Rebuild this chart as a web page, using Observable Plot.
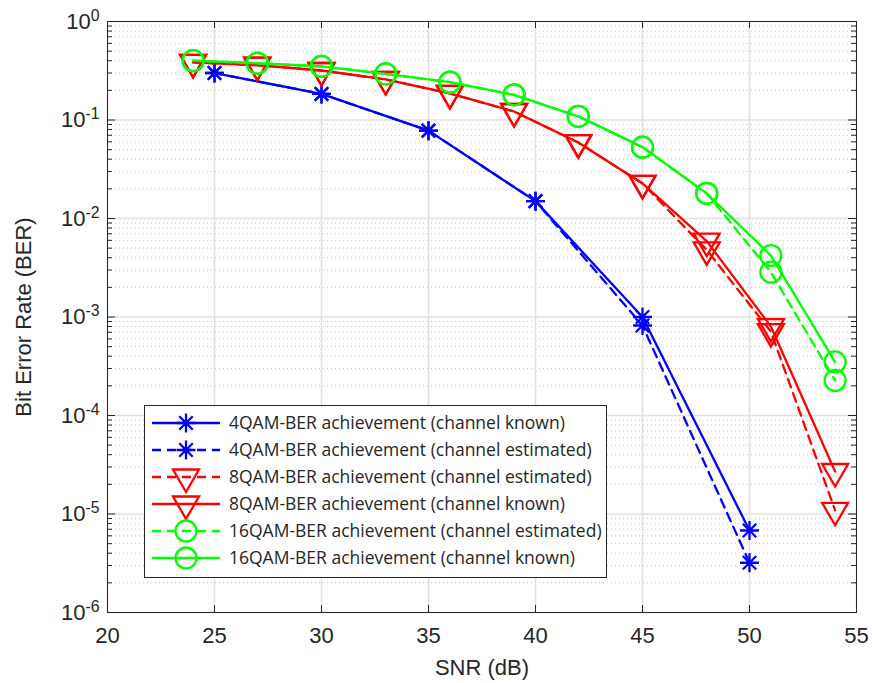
<!DOCTYPE html>
<html><head><meta charset="utf-8">
<script src="https://cdn.jsdelivr.net/npm/d3@7"></script>
<script src="https://cdn.jsdelivr.net/npm/@observablehq/plot@0.6"></script>
<style>
body{margin:0;background:#fff;}
#chart{position:relative;width:872px;height:683px;}
</style></head><body><div id="chart"></div>
<script>
// ---- data ----
const snr4 = [25, 30, 35, 40, 45, 50];
const ber4Known = [0.30, 0.184, 0.078, 0.015, 1.0e-3, 6.8e-6];
const ber4Est   = [0.30, 0.184, 0.078, 0.015, 8.2e-4, 3.2e-6];
const snr8 = [24, 27, 30, 33, 36, 39, 42, 45, 48, 51, 54];
const ber8Est   = [0.385, 0.36, 0.318, 0.258, 0.186, 0.122, 0.059, 0.0227, 4.8e-3, 7.1e-4, 1.09e-5];
const ber8Known = [0.385, 0.36, 0.318, 0.258, 0.186, 0.122, 0.059, 0.0227, 5.9e-3, 8.0e-4, 2.7e-5];
const snr16 = [24, 27, 30, 33, 36, 39, 42, 45, 48, 51, 54];
const ber16Est   = [0.40, 0.377, 0.35, 0.294, 0.242, 0.18, 0.109, 0.053, 0.018, 2.85e-3, 2.27e-4];
const ber16Known = [0.40, 0.377, 0.35, 0.294, 0.242, 0.18, 0.109, 0.053, 0.018, 4.2e-3, 3.5e-4];

const xTicks = [20, 25, 30, 35, 40, 45, 50, 55];
const yTicks = [1e-6, 1e-5, 1e-4, 1e-3, 1e-2, 1e-1, 1];
const minorMultipliers = [2, 3, 4, 5, 6, 7, 8, 9];

const legendLabels = [
  "4QAM-BER achievement (channel known)",
  "4QAM-BER achievement (channel estimated)",
  "8QAM-BER achievement (channel estimated)",
  "8QAM-BER achievement (channel known)",
  "16QAM-BER achievement (channel estimated)",
  "16QAM-BER achievement (channel known)"
];

// ---- styles ----
const BLUE = "#0000ff", RED = "#ff0000", GREEN = "#00ff00";
const DASH = "9,6";
const AXIS = "#262626";
const LW = 2.3;

const star = {draw(ctx, size) {
  const r = Math.sqrt(size / Math.PI), d = r * Math.SQRT1_2;
  ctx.moveTo(-r, 0); ctx.lineTo(r, 0);
  ctx.moveTo(0, -r); ctx.lineTo(0, r);
  ctx.moveTo(-d, -d); ctx.lineTo(d, d);
  ctx.moveTo(-d, d); ctx.lineTo(d, -d);
}};
const triDown = {draw(ctx, size) {
  const w = Math.sqrt(size / Math.PI), h = w * 1.732;
  ctx.moveTo(-w, -h / 3); ctx.lineTo(w, -h / 3); ctx.lineTo(0, 2 * h / 3); ctx.closePath();
}};
const circ = {draw(ctx, size) {
  const r = Math.sqrt(size / Math.PI);
  ctx.moveTo(r, 0); ctx.arc(0, 0, r, 0, 2 * Math.PI);
}};

const series = [
  {snr: snr4, ber: ber4Known, color: BLUE, dash: null, sym: star, r: 9.5},
  {snr: snr4, ber: ber4Est, color: BLUE, dash: DASH, sym: star, r: 9.5},
  {snr: snr8, ber: ber8Est, color: RED, dash: DASH, sym: triDown, r: 13},
  {snr: snr8, ber: ber8Known, color: RED, dash: null, sym: triDown, r: 13},
  {snr: snr16, ber: ber16Est, color: GREEN, dash: DASH, sym: circ, r: 10.5},
  {snr: snr16, ber: ber16Known, color: GREEN, dash: null, sym: circ, r: 10.5}
];

const yMinor = [];
for (const t of yTicks.slice(0, -1)) for (const m of minorMultipliers) yMinor.push(t * m);

const seriesMarks = series.flatMap(s => {
  const rows = s.snr.map((x, i) => ({x, y: s.ber[i]}));
  return [
    Plot.line(rows, {x: "x", y: "y", stroke: s.color, strokeWidth: LW, strokeDasharray: s.dash || undefined}),
    Plot.dot(rows, {x: "x", y: "y", r: s.r, symbol: s.sym, stroke: s.color, fill: "none", strokeWidth: LW})
  ];
});

const plot = Plot.plot({
  width: 872, height: 683,
  marginLeft: 107, marginRight: 16, marginTop: 21, marginBottom: 71,
  style: {fontFamily: "'Liberation Sans', Arial, sans-serif", fontSize: "22px", color: AXIS, background: "#fff"},
  x: {domain: [20, 55]},
  y: {type: "log", domain: [1e-6, 1]},
  marks: [
    Plot.ruleY(yMinor, {y: d => d, stroke: "#c4c4c4", strokeDasharray: "1,3"}),
    Plot.ruleX(xTicks, {x: d => d, stroke: "#e0e0e0", strokeWidth: 1.5}),
    Plot.ruleY(yTicks, {y: d => d, stroke: "#e0e0e0", strokeWidth: 1.5}),
    // inward tick marks (MATLAB style)
    Plot.tickX(xTicks, {x: d => d, stroke: AXIS, insetTop: 584}),
    Plot.tickX(xTicks, {x: d => d, stroke: AXIS, insetBottom: 584}),
    Plot.tickY(yTicks, {y: d => d, stroke: AXIS, insetRight: 741}),
    Plot.tickY(yTicks, {y: d => d, stroke: AXIS, insetLeft: 741}),
    Plot.tickY(yMinor, {y: d => d, stroke: AXIS, insetRight: 744}),
    Plot.tickY(yMinor, {y: d => d, stroke: AXIS, insetLeft: 744}),
    Plot.axisX({ticks: xTicks, tickSize: 0, tickPadding: 15, tickFormat: d => String(d),
      label: "SNR (dB)", labelAnchor: "center", labelOffset: 62, labelArrow: "none"}),
    Plot.axisY({ticks: yTicks, tickSize: 0, tickPadding: 8, tickFormat: d => "10^" + Math.round(Math.log10(d)),
      label: "Bit Error Rate (BER)", labelAnchor: "center", labelOffset: 92, labelArrow: "none"}),
    ...seriesMarks,
    Plot.frame({stroke: AXIS, strokeWidth: 1})
  ]
});

document.getElementById("chart").appendChild(plot);
const svg = d3.select(plot);

// superscript exponents on the y tick labels
svg.selectAll('g[aria-label="y-axis tick label"] text').each(function() {
  const parts = this.textContent.split("^");
  if (parts.length !== 2) return;
  this.textContent = parts[0];
  d3.select(this).append("tspan").attr("dy", "-0.5em").attr("font-size", "0.72em").text(parts[1]);
});

// legend box (inside the axes, lower left)
const lg = svg.append("g").attr("aria-label", "legend").attr("text-anchor", "start");
lg.append("rect").attr("x", 144.5).attr("y", 405.5).attr("width", 462).attr("height", 172)
  .attr("fill", "#fff").attr("stroke", AXIS).attr("stroke-width", 1);
series.forEach((s, i) => {
  const cy = 423 + i * 27;
  const row = lg.append("g").attr("transform", `translate(0,${cy})`);
  row.append("line").attr("x1", 152).attr("x2", 220).attr("y1", 0).attr("y2", 0)
    .attr("stroke", s.color).attr("stroke-width", LW).attr("stroke-dasharray", s.dash);
  row.append("path").attr("transform", "translate(186,0)")
    .attr("d", d3.symbol(s.sym, s.r * s.r * Math.PI)())
    .attr("fill", "none").attr("stroke", s.color).attr("stroke-width", LW);
  row.append("text").attr("x", 229).attr("y", 0).attr("dy", "0.36em").attr("text-anchor", "start")
    .attr("font-family", "'Open Sans', sans-serif").attr("font-size", 17.5).attr("fill", AXIS)
    .text(legendLabels[i]);
});
</script></body></html>
